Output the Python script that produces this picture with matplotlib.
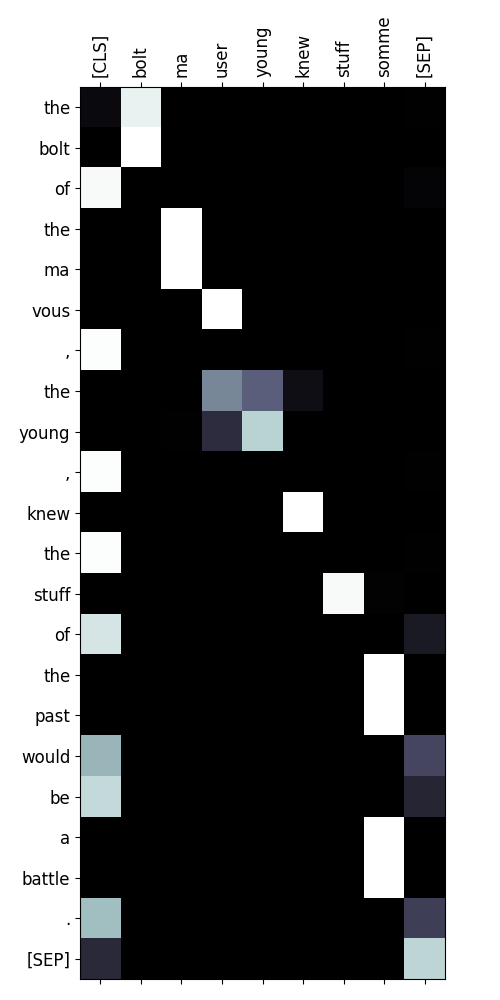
import numpy as np
import matplotlib
matplotlib.use('Agg')
import matplotlib.pyplot as plt

# tokens
src_tokens = ['[CLS]', 'bolt', 'ma', 'user', 'young', 'knew', 'stuff', 'somme', '[SEP]']
tgt_tokens = ['the', 'bolt', 'of', 'the', 'ma', 'vous', ',', 'the', 'young', ',', 'knew',
              'the', 'stuff', 'of', 'the', 'past', 'would', 'be', 'a', 'battle', '.', '[SEP]']

# attention weights, one row per target token
attn = [
    [0.05, 0.94, 0.00, 0.00, 0.00, 0.00, 0.00, 0.00, 0.01],
    [0.00, 1.00, 0.00, 0.00, 0.00, 0.00, 0.00, 0.00, 0.00],
    [0.98, 0.00, 0.00, 0.00, 0.00, 0.00, 0.00, 0.00, 0.02],
    [0.00, 0.00, 1.00, 0.00, 0.00, 0.00, 0.00, 0.00, 0.00],
    [0.00, 0.00, 1.00, 0.00, 0.00, 0.00, 0.00, 0.00, 0.00],
    [0.00, 0.00, 0.00, 1.00, 0.00, 0.00, 0.00, 0.00, 0.00],
    [0.99, 0.00, 0.00, 0.00, 0.00, 0.00, 0.00, 0.00, 0.01],
    [0.00, 0.00, 0.00, 0.54, 0.41, 0.07, 0.00, 0.00, 0.00],
    [0.00, 0.00, 0.01, 0.20, 0.80, 0.00, 0.00, 0.00, 0.00],
    [0.99, 0.00, 0.00, 0.00, 0.00, 0.00, 0.00, 0.00, 0.01],
    [0.00, 0.00, 0.00, 0.00, 0.00, 1.00, 0.00, 0.00, 0.00],
    [0.99, 0.00, 0.00, 0.00, 0.00, 0.00, 0.00, 0.00, 0.01],
    [0.00, 0.00, 0.00, 0.00, 0.00, 0.00, 0.98, 0.015, 0.00],
    [0.88, 0.00, 0.00, 0.00, 0.00, 0.00, 0.00, 0.00, 0.12],
    [0.00, 0.00, 0.00, 0.00, 0.00, 0.00, 0.00, 1.00, 0.00],
    [0.00, 0.00, 0.00, 0.00, 0.00, 0.00, 0.00, 1.00, 0.00],
    [0.69, 0.00, 0.00, 0.00, 0.00, 0.00, 0.00, 0.00, 0.31],
    [0.83, 0.00, 0.00, 0.00, 0.00, 0.00, 0.00, 0.00, 0.17],
    [0.00, 0.00, 0.00, 0.00, 0.00, 0.00, 0.00, 1.00, 0.00],
    [0.00, 0.00, 0.00, 0.00, 0.00, 0.00, 0.00, 1.00, 0.00],
    [0.72, 0.00, 0.00, 0.00, 0.00, 0.00, 0.00, 0.00, 0.28],
    [0.19, 0.00, 0.00, 0.00, 0.00, 0.00, 0.00, 0.00, 0.81],
]

fig = plt.figure(figsize=(5, 10), dpi=100)
ax = fig.add_axes([0.16, 0.02, 0.73, 0.894])
ax.matshow(np.array(attn), cmap='bone', vmin=0, vmax=1)

ax.set_xticks(range(len(src_tokens)))
ax.set_xticklabels(src_tokens, rotation=90, fontsize=12)
ax.set_yticks(range(len(tgt_tokens)))
ax.set_yticklabels(tgt_tokens, fontsize=12)

plt.savefig('out.png', dpi=100)
